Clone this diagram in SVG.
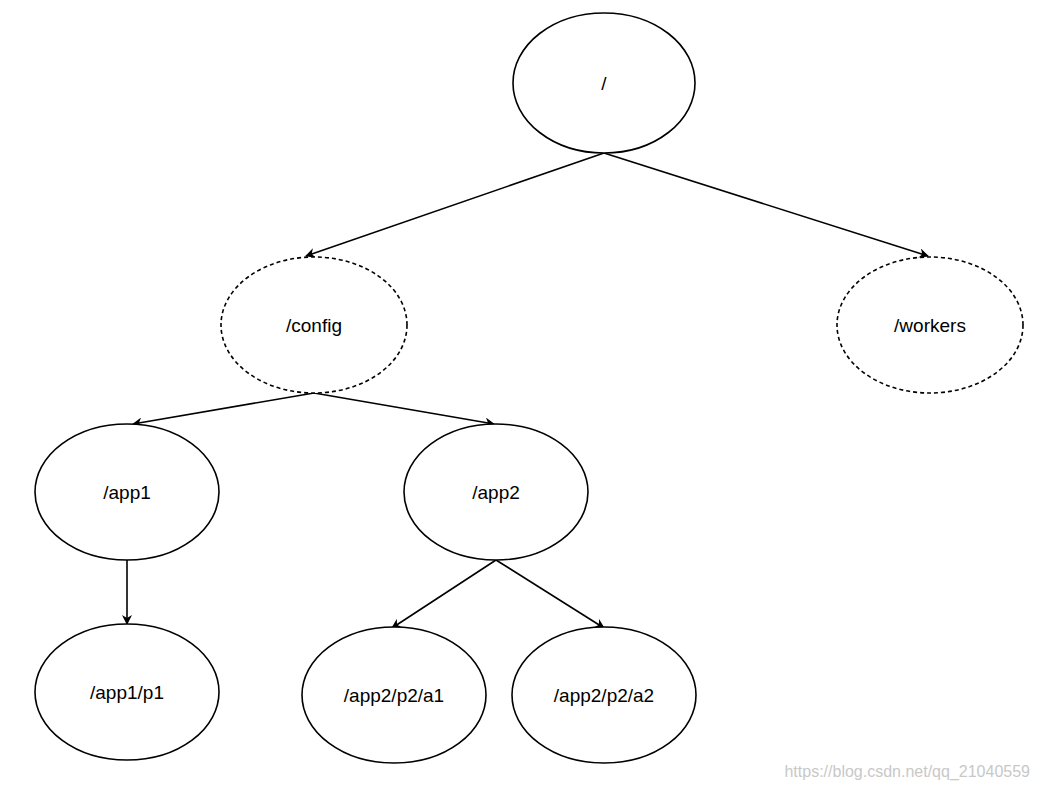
<svg xmlns="http://www.w3.org/2000/svg" width="1038" height="790" viewBox="0 0 1038 790">
<style>
.n{fill:#fff;stroke:#000;stroke-width:1.6}
.d{stroke-dasharray:4 3}
.t{font-family:"Liberation Sans",Arial,sans-serif;font-size:19px;text-anchor:middle;fill:#000}
.c{stroke:#000;stroke-width:1.6;fill:none;marker-end:url(#a)}
</style>
<defs><marker id="a" markerWidth="10" markerHeight="10" refX="9" refY="5" orient="auto" markerUnits="userSpaceOnUse"><path d="M0,0L10,5L0,10L3,5Z" fill="#000"/></marker></defs>
<rect width="1038" height="790" fill="#fff"/>
<g id="connectors">
<line class="c" x1="604" y1="153" x2="306" y2="256"/>
<line class="c" x1="604" y1="153" x2="928" y2="256"/>
<line class="c" x1="314" y1="393" x2="133" y2="424"/>
<line class="c" x1="314" y1="393" x2="494" y2="424"/>
<line class="c" x1="127" y1="560" x2="127" y2="624"/>
<line class="c" x1="496" y1="560" x2="392" y2="628"/>
<line class="c" x1="496" y1="560" x2="604" y2="628"/>
</g>
<g id="root"><ellipse class="n" cx="604" cy="83" rx="91" ry="70"/><text class="t" x="604" y="90">/</text></g>
<g id="config"><ellipse class="n d" cx="314" cy="325" rx="93" ry="68"/><text class="t" x="314" y="332">/config</text></g>
<g id="workers"><ellipse class="n d" cx="930" cy="325" rx="93" ry="68"/><text class="t" x="930" y="332">/workers</text></g>
<g id="app1"><ellipse class="n" cx="127" cy="492" rx="92" ry="68"/><text class="t" x="127" y="499">/app1</text></g>
<g id="app2"><ellipse class="n" cx="496" cy="492" rx="92" ry="68"/><text class="t" x="496" y="499">/app2</text></g>
<g id="app1p1"><ellipse class="n" cx="127" cy="692" rx="92" ry="68"/><text class="t" x="127" y="699">/app1/p1</text></g>
<g id="a1"><ellipse class="n" cx="394" cy="695" rx="92" ry="68"/><text class="t" x="394" y="702">/app2/p2/a1</text></g>
<g id="a2"><ellipse class="n" cx="604" cy="695" rx="92" ry="68"/><text class="t" x="604" y="702">/app2/p2/a2</text></g>
<text x="1030" y="777" font-family="Liberation Sans,Arial,sans-serif" font-size="16" fill="#c8c8c8" text-anchor="end">https://blog.csdn.net/qq_21040559</text>
</svg>
